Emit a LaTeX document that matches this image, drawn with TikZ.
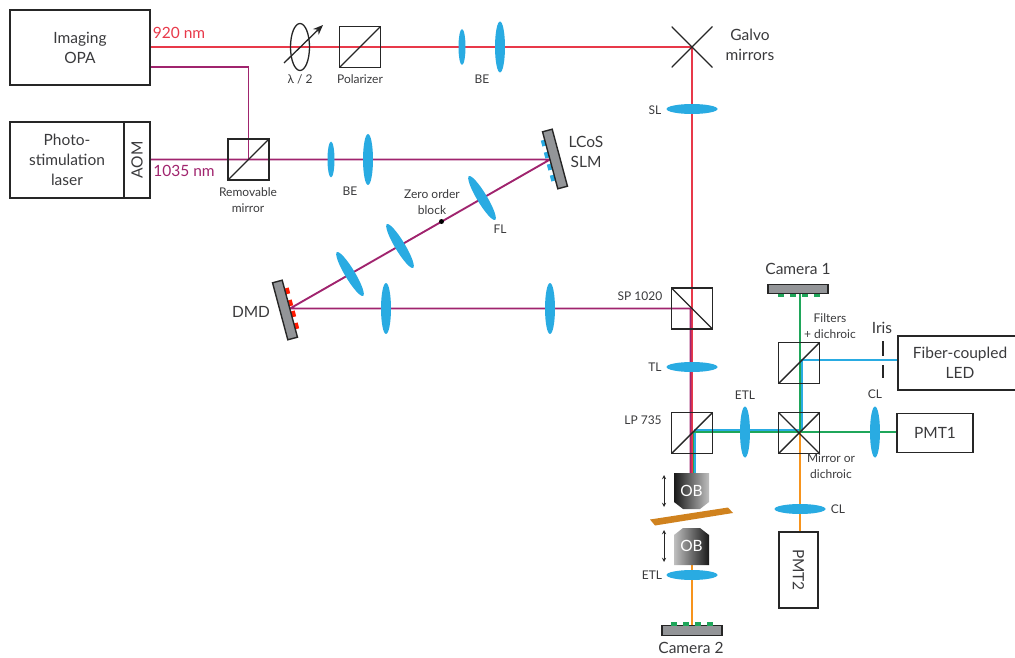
\documentclass[tikz,border=0pt]{standalone}
\usepackage{fontspec}
\setmainfont{Lato}
\usepackage{tikz}
\usetikzlibrary{shapes,arrows,arrows.meta,backgrounds}
\definecolor{beamred}{HTML}{E8394A}
\definecolor{beampurple}{HTML}{A0246E}
\definecolor{beamblue}{HTML}{29ABE2}
\definecolor{beamgreen}{HTML}{1FA65A}
\definecolor{beamorange}{HTML}{F7941D}
\definecolor{lensblue}{HTML}{29ABE2}
\definecolor{darktext}{HTML}{3A3A3C}
\definecolor{slabcolor}{HTML}{D0821E}
\definecolor{devicegray}{HTML}{939598}
\tikzset{
  box/.style={draw=black!85,line width=1.4pt,rectangle,inner sep=0pt,text=darktext,align=center,font=\fontsize{15.5}{20}\selectfont},
  biglabel/.style={text=darktext,align=center,inner sep=0pt,font=\fontsize{15.5}{20}\selectfont},
  smalllabel/.style={text=darktext,align=center,inner sep=0pt,font=\fontsize{12}{16}\selectfont},
  lens/.style={ellipse,fill=lensblue,inner sep=0pt},
  lensv/.style={lens,minimum width=10pt,minimum height=51pt},
  lensh/.style={lens,minimum width=51pt,minimum height=10pt},
  lenss/.style={lens,minimum width=7pt,minimum height=36pt},
  cubeup/.style={draw=black!85,line width=1.4pt,rectangle,minimum size=41pt,inner sep=0pt,
    path picture={\draw[black!85,line width=1.4pt] (path picture bounding box.south west) -- (path picture bounding box.north east);}},
  cubedown/.style={draw=black!85,line width=1.4pt,rectangle,minimum size=41pt,inner sep=0pt,
    path picture={\draw[black!85,line width=1.4pt] (path picture bounding box.north west) -- (path picture bounding box.south east);}},
  crossed/.style={rectangle,minimum size=41pt,inner sep=0pt,
    path picture={\draw[black!85,line width=1.4pt] (path picture bounding box.north west) -- (path picture bounding box.south east);
      \draw[black!85,line width=1.4pt] (path picture bounding box.south west) -- (path picture bounding box.north east);}},
  device/.style={draw=black!85,line width=1.4pt,fill=devicegray,rectangle,inner sep=0pt},
  tileblue/.style={fill=lensblue,rectangle,inner sep=0pt,minimum width=5pt,minimum height=6pt,rotate=15},
  tilered/.style={fill=red!80!orange,rectangle,inner sep=0pt,minimum width=5pt,minimum height=6pt,rotate=15},
  tilegreen/.style={fill=beamgreen,rectangle,inner sep=0pt,minimum width=6pt,minimum height=3.5pt},
  redbeam/.style={draw=beamred,line width=2pt},
  purplebeam/.style={draw=beampurple,line width=1.9pt},
  bluebeam/.style={draw=beamblue,line width=2.2pt},
  greenbeam/.style={draw=beamgreen,line width=1.9pt},
  orangebeam/.style={draw=beamorange,line width=2pt},
}
\begin{document}
\begin{tikzpicture}[x=1pt,y=-1pt]
\useasboundingbox (0,0) rectangle (1015,658);

% to draw lasers
\node [box,minimum width=140pt,minimum height=75pt] (opa) at (80,47.5) {Imaging\\OPA};
\node [box,minimum width=114pt,minimum height=76pt] (laser) at (67,160) {Photo-\\stimulation\\laser};
\node [box,minimum width=76pt,minimum height=26pt,rotate=90] (aom) at (137,160) {AOM};
\coordinate (opaport) at (150,67);
\node [biglabel,text=beamred] (redlabel) at (179,33) {920 nm};
\node [biglabel,text=beampurple] (purplelabel) at (184,171) {1035 nm};

% to draw imaging path elements
\node [ellipse,draw=black!85,line width=1.3pt,inner sep=0pt,minimum width=19pt,minimum height=47pt] (waveplate) at (300,47) {};
\coordinate (platefrom) at (284,63);
\coordinate (plateto) at (323,25);
\node [cubeup] (polarizer) at (360,47) {};
\node [lenss] (bea) at (462,47) {};
\node [lensv] (beb) at (500,47) {};
\node [crossed] (galvo) at (692,47) {};
\node [lensh] (sl) at (692,109) {};
\node [smalllabel] (platetext) at (300,79) {λ / 2};
\node [smalllabel] (polarizertext) at (360,79) {Polarizer};
\node [smalllabel] (betext) at (482,79) {BE};
\node [biglabel] (galvotext) at (750,45) {Galvo\\mirrors};
\node [smalllabel] (sltext) at (655,110) {SL};

% to draw photostimulation path elements
\node [cubeup] (remmirror) at (248.5,159.5) {};
\node [lenss] (bec) at (331,159.5) {};
\node [lensv] (bed) at (368,159.5) {};
\node [tileblue] (slma) at (544,143) {};
\node [tileblue] (slmb) at (547,155) {};
\node [tileblue] (slmc) at (550,167) {};
\node [tileblue] (slmd) at (553,178) {};
\node [device,minimum width=10pt,minimum height=59pt,rotate=15] (slm) at (555,159) {};
\coordinate (slmspot) at (550,159.5);
\node [lensv,rotate=31] (fl) at (482,198) {};
\node [lensv,rotate=31] (fla) at (400,246) {};
\node [lensv,rotate=31] (flb) at (350,274) {};
\node [circle,fill=black,inner sep=0pt,minimum size=5pt] (block) at (441.5,221.5) {};
\node [tilered] (dmda) at (287,291) {};
\node [tilered] (dmdb) at (290,303) {};
\node [tilered] (dmdc) at (293,314) {};
\node [tilered] (dmdd) at (296,326) {};
\node [device,minimum width=10pt,minimum height=59pt,rotate=15] (dmd) at (285,310) {};
\coordinate (dmdspot) at (290,308.5);
\node [lensv] (rla) at (386,308.5) {};
\node [lensv] (rlb) at (550,308.5) {};
\node [smalllabel] (remtext) at (248,200) {Removable\\mirror};
\node [smalllabel] (bectext) at (350,191) {BE};
\node [biglabel] (slmtext) at (586,152) {LCoS\\SLM};
\node [smalllabel] (fltext) at (500,229) {FL};
\node [smalllabel] (blocktext) at (432,202) {Zero order\\block};
\node [biglabel] (dmdtext) at (251,312) {DMD};

% to draw microscope column
\node [cubedown] (sp) at (692,308.5) {};
\node [lensh] (tl) at (692,367) {};
\node [cubeup] (lp) at (692,433) {};
\node [smalllabel] (sptext) at (640,296) {SP 1020};
\node [smalllabel] (tltext) at (655,367) {TL};
\node [smalllabel] (lptext) at (643,420) {LP 735};
\coordinate (lpgreen) at (693.5,432);
\coordinate (lpblue) at (695,430.3);

% to draw objectives and sample
\shade [left color=black!90,right color=black!25] (674,473) -- (709,473) -- (709,502) -- (700,509) -- (683,509) -- (674,502) -- cycle;
\shade [left color=black!25,right color=black!90] (674,565) -- (709,565) -- (709,535) -- (700,528) -- (683,528) -- (674,535) -- cycle;
\fill [slabcolor] (650,519.5) -- (728,507.5) -- (733,513) -- (655,525.5) -- cycle;
\node [biglabel,text=white] (obtop) at (691.5,491) {OB};
\node [biglabel,text=white] (obbot) at (691.5,546) {OB};
\coordinate (obtopin) at (692,473);
\coordinate (obbotout) at (692,565);
\coordinate (arrowa) at (664,475);
\coordinate (arrowb) at (664,507);
\coordinate (arrowc) at (664,530);
\coordinate (arrowd) at (664,562);
\node [lensh] (etlb) at (692,575) {};
\node [smalllabel] (etlbtext) at (652,575) {ETL};
\node [device,minimum width=60pt,minimum height=9.5pt] (camb) at (692,630.5) {};
\node [tilegreen] (cambt) at (674,624) {};
\node [tilegreen] (cambu) at (686,624) {};
\node [tilegreen] (cambv) at (698,624) {};
\node [tilegreen] (cambw) at (710,624) {};
\node [biglabel] (cambtext) at (691,648) {Camera 2};

% to draw detection arm
\node [lensv] (etla) at (745,432) {};
\node [smalllabel] (etlatext) at (745,395) {ETL};
\node [cubeup,crossed,draw=black!85,line width=1.4pt] (crosscube) at (799,433) {};
\node [cubeup] (filter) at (799,363) {};
\node [smalllabel] (mirrortext) at (831,466) {Mirror or\\dichroic};
\node [smalllabel] (filtertext) at (830,326) {Filters\\+ dichroic};
\node [device,minimum width=60pt,minimum height=9.5pt] (cama) at (798,289) {};
\node [tilegreen] (camat) at (781,295.5) {};
\node [tilegreen] (camau) at (793,295.5) {};
\node [tilegreen] (camav) at (805,295.5) {};
\node [tilegreen] (camaw) at (817,295.5) {};
\node [biglabel] (camatext) at (798,269) {Camera 1};
\node [box,minimum width=124pt,minimum height=54pt] (led) at (960,363) {Fiber-coupled\\LED};
\coordinate (crossgreen) at (800,432);
\coordinate (crossblue) at (801.7,430.3);
\coordinate (crossorange) at (800,432);
\coordinate (filterport) at (801.7,360);
\node [biglabel] (iristext) at (882,328) {Iris};
\coordinate (irisa) at (883,341);
\coordinate (irisb) at (883,356);
\coordinate (irisc) at (883,365);
\coordinate (irisd) at (883,378);
\node [lensv] (clr) at (875,432) {};
\node [smalllabel] (clrtext) at (875,394) {CL};
\node [box,minimum width=76pt,minimum height=39pt] (pmta) at (935,433) {PMT1};
\node [lensh] (cld) at (800,509) {};
\node [smalllabel] (cldtext) at (838,509) {CL};
\node [box,minimum width=76pt,minimum height=39pt,rotate=-90] (pmtb) at (798.5,570) {PMT2};

% to draw beams under the optics
\begin{pgfonlayer}{background}
\draw [redbeam] (opa.east |- galvo) -- (galvo.center) -- (obtopin);
\draw [purplebeam] (opaport) -| (remmirror.center);
\draw [purplebeam] (aom.south |- remmirror) -- (slmspot) -- (dmdspot) -- ([xshift=-1.5pt]sp.center) -- ([xshift=-1.5pt]obtopin);
\draw [bluebeam] (lpblue |- obtopin) -- (lpblue) -- (crossblue) -- (filterport) -- (filterport -| led.west);
\draw [greenbeam] (lpgreen |- obtopin) -- (lpgreen) -- (crossgreen) -- (crossgreen |- cama.south);
\draw [greenbeam] (crossgreen) -- (crossgreen -| pmta.west);
\draw [orangebeam] (crossorange) -- (crossorange |- pmtb.west);
\draw [orangebeam] (obbotout) -- (obbotout |- camb.north);
\end{pgfonlayer}

% to draw arrows and small marks
\draw [-{Stealth[length=10pt,width=8pt]},black!85,line width=1.3pt] (platefrom) -- (plateto);
\draw [<->,>=stealth,black!85,line width=0.9pt] (arrowa) -- (arrowb);
\draw [<->,>=stealth,black!85,line width=0.9pt] (arrowc) -- (arrowd);
\draw [black!85,line width=1.3pt] (irisa) -- (irisb);
\draw [black!85,line width=1.3pt] (irisc) -- (irisd);
\end{tikzpicture}
\end{document}
